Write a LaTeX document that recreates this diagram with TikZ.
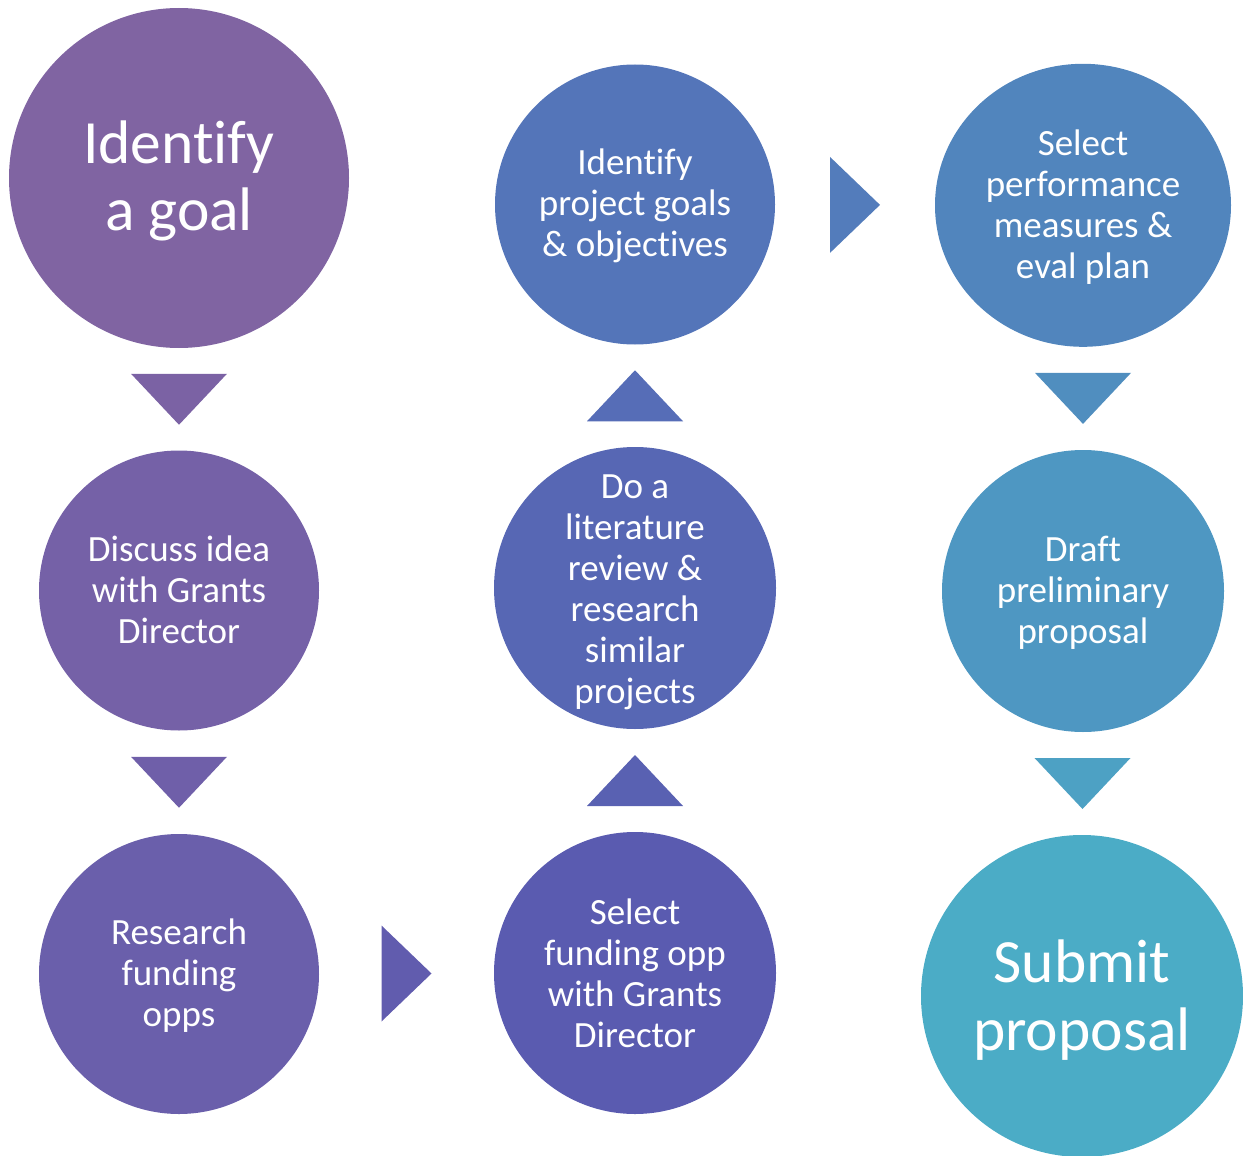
\documentclass[tikz,border=0pt]{standalone}
\usepackage{fontspec}
\setmainfont{Carlito}[Ligatures=NoCommon]
\usetikzlibrary{calc,shapes.geometric}
\definecolor{k0}{HTML}{8064A2}
\definecolor{k1}{HTML}{7B62A4}
\definecolor{k2}{HTML}{7561A7}
\definecolor{k3}{HTML}{6F5FA9}
\definecolor{k4}{HTML}{6A5FAB}
\definecolor{k5}{HTML}{615CAE}
\definecolor{k6}{HTML}{5A5BB0}
\definecolor{k7}{HTML}{5961B2}
\definecolor{k8}{HTML}{5767B4}
\definecolor{k9}{HTML}{566DB7}
\definecolor{k10}{HTML}{5475B9}
\definecolor{k11}{HTML}{537CBB}
\definecolor{k12}{HTML}{5185BD}
\definecolor{k13}{HTML}{508EBF}
\definecolor{k14}{HTML}{4E97C2}
\definecolor{k15}{HTML}{4DA1C4}
\definecolor{k16}{HTML}{4BACC6}
\newcommand\tridown[3]{\fill[#3] ($(#1.south)!0.5!(#2.north)$) ++(-48,-25.5) -- ++(96,0) -- ++(-48,51) -- cycle;}
\newcommand\triup[3]{\fill[#3] ($(#1.north)!0.5!(#2.south)$) ++(-48,25.5) -- ++(96,0) -- ++(-48,-51) -- cycle;}
\newcommand\triright[3]{\fill[#3] ($(#1.east)!0.5!(#2.west)$) ++(-25,-48) -- ++(0,96) -- ++(50,-48) -- cycle;}
\begin{document}
\begin{tikzpicture}[x=1pt,y=-1pt,
  disc/.style={circle,inner sep=0pt},
  txt/.style={inner sep=0pt,text=white,align=center,font=\fontsize{37}{41}\selectfont},
  bigtxt/.style={inner sep=0pt,text=white,align=center,font=\fontsize{61.5}{67.5}\selectfont}]
\useasboundingbox (0,0) rectangle (1243,1156);
\node[disc,fill=k0,minimum size=340pt] (c1) at (179,178) {};
\node[disc,fill=k2,minimum size=280pt] (c2) at (179,590.5) {};
\node[disc,fill=k4,minimum size=280pt] (c3) at (179,974) {};
\node[disc,fill=k6,minimum size=282pt] (c4) at (635,973) {};
\node[disc,fill=k8,minimum size=282pt] (c5) at (635,588) {};
\node[disc,fill=k10,minimum size=280pt] (c6) at (635,204.5) {};
\node[disc,ellipse,fill=k12,minimum width=296pt,minimum height=283pt] (c7) at (1083,205.3) {};
\node[disc,fill=k14,minimum size=282pt] (c8) at (1083,591) {};
\node[disc,fill=k16,minimum size=322pt] (c9) at (1082,996) {};
\node[bigtxt] (t1) at ($(c1)+(0,3)$) {Identify\\a goal};
\node[txt] (t2) at ($(c2)+(0,-1)$) {Discuss idea\\with Grants\\Director};
\node[txt] (t3) at ($(c3)+(0,2)$) {Research\\funding\\opps};
\node[txt] (t4) at ($(c4)+(0,0)$) {Select\\funding opp\\with Grants\\Director};
\node[txt] (t5) at ($(c5)+(0,4)$) {Do a\\literature\\review \&\\research\\similar\\projects};
\node[txt] (t6) at ($(c6)+(0,1)$) {Identify\\project goals\\\& objectives};
\node[txt] (t7) at ($(c7)+(0,2)$) {Select\\performance\\measures \&\\eval plan};
\node[txt] (t8) at ($(c8)+(0,2)$) {Draft\\preliminary\\proposal};
\node[bigtxt] (t9) at ($(c9)+(0,4)$) {Submit\\proposal};
\tridown{c1}{c2}{k1}
\tridown{c2}{c3}{k3}
\triright{c3}{c4}{k5}
\triup{c4}{c5}{k7}
\triup{c5}{c6}{k9}
\triright{c6}{c7}{k11}
\tridown{c7}{c8}{k13}
\tridown{c8}{c9}{k15}
\end{tikzpicture}
\end{document}
